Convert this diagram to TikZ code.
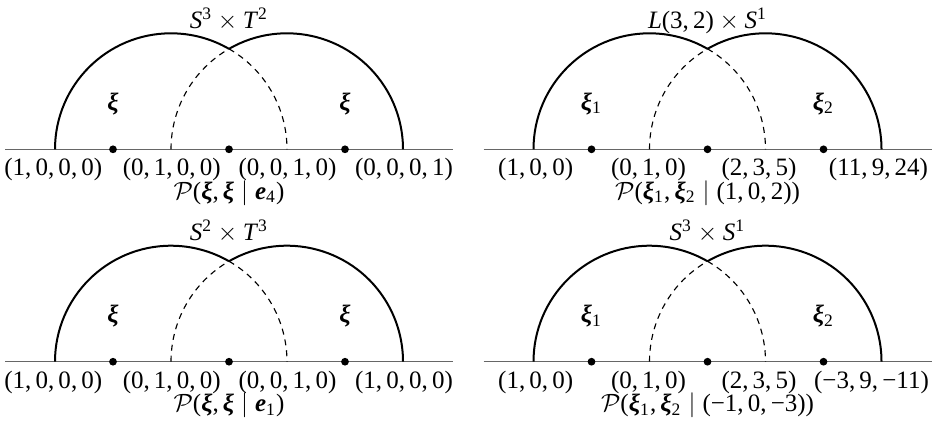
\documentclass[tikz,border=0pt]{standalone}
\usepackage{fontspec}
\setmainfont{Liberation Serif}
\newcommand\bxi{{\bfseries\itshape ξ}}
\newcommand\bee{{\bfseries\itshape e}}
\newcommand\tsub[1]{\ensuremath{_{\mbox{\fontsize{7}{8}\selectfont #1}}}}
\newcommand\tsup[1]{\ensuremath{^{\mbox{\fontsize{7}{8}\selectfont #1}}}}
\newcommand\mybar{\hspace{0.278em}$|$\hspace{0.278em}}
\newcommand\mytimes{\hspace{0.222em}$\times$\hspace{0.222em}}
\newcommand\cm{,\,}
\newcommand\panelgeom[1]{%
  \coordinate (#1a) at (0,0);
  \coordinate (#1b) at (116,0);
  \coordinate (#1c) at (232,0);
  \coordinate (#1d) at (348,0);
  \coordinate (#1l) at (-50,0);
  \coordinate (#1r) at (398,0);
  \draw[axisline] (#1l) -- (#1r);
  \draw[arcsolid] (#1a) arc[start angle=180,end angle=60,radius=116] coordinate (#1x);
  \draw[arcdash] (#1x) arc[start angle=60,end angle=0,radius=116];
  \draw[arcdash] (#1b) arc[start angle=180,end angle=120,radius=116];
  \draw[arcsolid] (#1x) arc[start angle=120,end angle=0,radius=116];
  \node[dot] (#1p) at (58,0) {};
  \node[dot] (#1q) at (174,0) {};
  \node[dot] (#1s) at (290,0) {};
}
\begin{document}
\begin{tikzpicture}[x=0.4pt,y=0.4pt,
  axisline/.style={line width=0.5pt, draw=black!60},
  arcsolid/.style={line width=0.8pt},
  arcdash/.style={line width=0.45pt, dash pattern=on 2.4pt off 2pt},
  dot/.style={circle, fill=black, inner sep=0pt, minimum size=3.1pt},
  lab/.style={anchor=base, inner sep=0pt, font=\fontsize{10}{12}\selectfont}]
\useasboundingbox (0,0) rectangle (938,-422);

% Panel 1
\begin{scope}[shift={(55,-149.3)}]
  \panelgeom{A}
  \node[lab] (Atitle) at (174,121) {\textit{S}\tsup{3}\mytimes\textit{T}\tsup{2}};
  \node[lab] (Axi1) at (58,39.3) {\bxi};
  \node[lab] (Axi2) at (290,39.3) {\bxi};
  \node[lab] (Ala) at (-1.7,-26.5) {(1\cm 0\cm 0\cm 0)};
  \node[lab] (Alb) at (116.7,-26.5) {(0\cm 1\cm 0\cm 0)};
  \node[lab] (Alc) at (232.5,-26.5) {(0\cm 0\cm 1\cm 0)};
  \node[lab] (Ald) at (349,-26.5) {(0\cm 0\cm 0\cm 1)};
  \node[lab] (AP) at (174,-49.7) {$\mathcal{P}$(\bxi\cm\bxi\mybar\bee\tsub{4})};
\end{scope}

% Panel 2
\begin{scope}[shift={(533.5,-149.3)}]
  \panelgeom{B}
  \node[lab] (Btitle) at (174,121) {\textit{L}(3\cm 2)\mytimes\textit{S}\tsup{1}};
  \node[lab] (Bxi1) at (58,39.3) {\bxi\tsub{1}};
  \node[lab] (Bxi2) at (290,39.3) {\bxi\tsub{2}};
  \node[lab] (Bla) at (2.2,-26.5) {(1\cm 0\cm 0)};
  \node[lab] (Blb) at (115,-26.5) {(0\cm 1\cm 0)};
  \node[lab] (Blc) at (225.5,-26.5) {(2\cm 3\cm 5)};
  \node[lab] (Bld) at (345,-26.5) {(11\cm 9\cm 24)};
  \node[lab] (BP) at (174,-49.7) {$\mathcal{P}$(\bxi\tsub{1}\cm\bxi\tsub{2}\mybar(1\cm 0\cm 2))};
\end{scope}

% Panel 3
\begin{scope}[shift={(55,-361.7)}]
  \panelgeom{C}
  \node[lab] (Ctitle) at (174,121) {\textit{S}\tsup{2}\mytimes\textit{T}\tsup{3}};
  \node[lab] (Cxi1) at (58,39.3) {\bxi};
  \node[lab] (Cxi2) at (290,39.3) {\bxi};
  \node[lab] (Cla) at (-1.7,-26.5) {(1\cm 0\cm 0\cm 0)};
  \node[lab] (Clb) at (116.7,-26.5) {(0\cm 1\cm 0\cm 0)};
  \node[lab] (Clc) at (232.5,-26.5) {(0\cm 0\cm 1\cm 0)};
  \node[lab] (Cld) at (349,-26.5) {(1\cm 0\cm 0\cm 0)};
  \node[lab] (CP) at (174,-49.7) {$\mathcal{P}$(\bxi\cm\bxi\mybar\bee\tsub{1})};
\end{scope}

% Panel 4
\begin{scope}[shift={(533.5,-361.7)}]
  \panelgeom{D}
  \node[lab] (Dtitle) at (174,121) {\textit{S}\tsup{3}\mytimes\textit{S}\tsup{1}};
  \node[lab] (Dxi1) at (58,39.3) {\bxi\tsub{1}};
  \node[lab] (Dxi2) at (290,39.3) {\bxi\tsub{2}};
  \node[lab] (Dla) at (2.2,-26.5) {(1\cm 0\cm 0)};
  \node[lab] (Dlb) at (115,-26.5) {(0\cm 1\cm 0)};
  \node[lab] (Dlc) at (225.5,-26.5) {(2\cm 3\cm 5)};
  \node[lab] (Dld) at (338,-26.5) {(−3\cm 9\cm −11)};
  \node[lab] (DP) at (174,-49.7) {$\mathcal{P}$(\bxi\tsub{1}\cm\bxi\tsub{2}\mybar(−1\cm 0\cm −3))};
\end{scope}
\end{tikzpicture}
\end{document}
